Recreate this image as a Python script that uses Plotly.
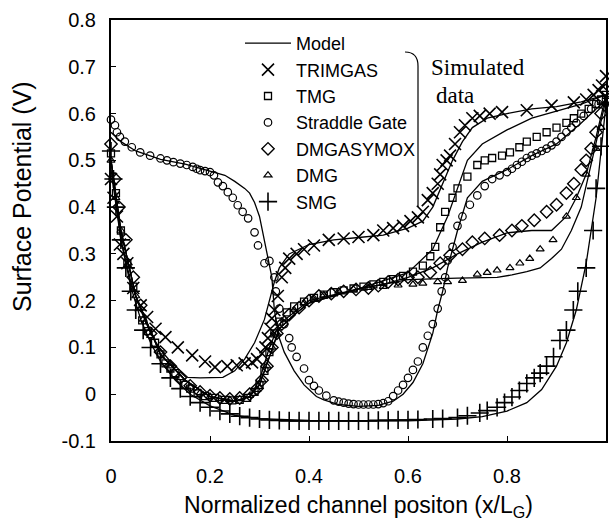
import plotly.graph_objects as go

# ---------------- data ----------------
trim_x = [0, 0.005, 0.012, 0.018, 0.025, 0.033, 0.045, 0.06, 0.073, 0.09, 0.11, 0.135, 0.164, 0.19, 0.21,
          0.235, 0.254, 0.27, 0.285, 0.295, 0.305, 0.312, 0.317, 0.322, 0.325, 0.33, 0.337, 0.345, 0.352,
          0.36, 0.375, 0.39, 0.41, 0.44, 0.47, 0.50, 0.53, 0.55, 0.57, 0.59, 0.605, 0.62, 0.63, 0.64, 0.65,
          0.66, 0.665, 0.67, 0.678, 0.685, 0.695, 0.705, 0.715, 0.73, 0.745, 0.765, 0.79, 0.84, 0.89, 0.935,
          0.96, 0.975, 0.985, 0.992, 1.0]
trim_y = [0.46, 0.42, 0.38, 0.32, 0.30, 0.28, 0.227, 0.19, 0.165, 0.14, 0.122, 0.10, 0.083, 0.07, 0.058,
          0.06, 0.062, 0.066, 0.068, 0.075, 0.087, 0.10, 0.12, 0.14, 0.162, 0.18, 0.21, 0.25, 0.27,
          0.29, 0.30, 0.31, 0.318, 0.33, 0.333, 0.336, 0.34, 0.35, 0.355, 0.36, 0.37, 0.378, 0.39, 0.415, 0.43,
          0.45, 0.47, 0.49, 0.50, 0.51, 0.535, 0.56, 0.575, 0.59, 0.595, 0.60, 0.603, 0.607, 0.617, 0.624,
          0.63, 0.64, 0.65, 0.66, 0.68]
trim_mx = [0, 0.02, 0.04, 0.06, 0.08, 0.1, 0.12, 0.14, 0.155, 0.18, 0.226, 0.25, 0.27, 0.29, 0.31, 0.32,
           0.33, 0.34, 0.36, 0.4, 0.45, 0.5, 0.55, 0.6, 0.63, 0.65, 0.67, 0.69, 0.71, 0.73, 0.76, 0.8, 0.85,
           0.9, 0.95, 1.0]
trim_my = [0.48, 0.33, 0.24, 0.18, 0.13, 0.095, 0.07, 0.05, 0.036, 0.035, 0.036, 0.05, 0.075, 0.11, 0.16,
           0.2, 0.24, 0.27, 0.30, 0.32, 0.33, 0.335, 0.34, 0.355, 0.37, 0.40, 0.45, 0.50, 0.54, 0.57, 0.59,
           0.60, 0.61, 0.615, 0.625, 0.64]

tmg_x = [0, 0.01, 0.02, 0.033, 0.045, 0.063, 0.075, 0.089, 0.1, 0.11, 0.12, 0.13, 0.15, 0.16, 0.175, 0.19,
         0.21, 0.23, 0.245, 0.26, 0.275, 0.29, 0.30, 0.31, 0.32, 0.33, 0.34, 0.355, 0.37, 0.39, 0.41, 0.43,
         0.45, 0.47, 0.49, 0.51, 0.53, 0.55, 0.57, 0.59, 0.61, 0.63, 0.645, 0.655, 0.665, 0.675, 0.69, 0.70,
         0.72, 0.74, 0.755, 0.77, 0.79, 0.806, 0.825, 0.84, 0.86, 0.88, 0.90, 0.92, 0.935, 0.95, 0.965,
         0.98, 0.99, 1.0]
tmg_y = [0.515, 0.43, 0.35, 0.28, 0.23, 0.158, 0.135, 0.11, 0.085, 0.066, 0.055, 0.045, 0.02, 0.012, 0.002,
         -0.004, -0.008, -0.012, -0.013, -0.012, -0.008, 0.005, 0.02, 0.05, 0.09, 0.13, 0.155, 0.175, 0.188,
         0.198, 0.206, 0.213, 0.218, 0.222, 0.226, 0.23, 0.235, 0.24, 0.246, 0.253, 0.262, 0.275, 0.295,
         0.315, 0.357, 0.39, 0.42, 0.44, 0.465, 0.49, 0.50, 0.505, 0.51, 0.517, 0.528, 0.54, 0.55, 0.56,
         0.57, 0.58, 0.59, 0.60, 0.61, 0.62, 0.63, 0.64]
tmg_mx = [0, 0.02, 0.05, 0.1, 0.15, 0.2, 0.25, 0.28, 0.3, 0.32, 0.34, 0.4, 0.5, 0.6, 0.65, 0.68, 0.7, 0.72,
          0.75, 0.8, 0.85, 0.9, 0.95, 1.0]
tmg_my = [0.5, 0.35, 0.21, 0.085, 0.03, -0.005, -0.015, -0.005, 0.03, 0.1, 0.15, 0.2, 0.225, 0.26, 0.31,
          0.38, 0.44, 0.50, 0.535, 0.565, 0.59, 0.605, 0.62, 0.64]

sg_x = [0, 0.008, 0.012, 0.018, 0.028, 0.042, 0.059, 0.079, 0.1, 0.113, 0.126, 0.14, 0.153, 0.165, 0.173,
        0.18, 0.19, 0.2, 0.208, 0.216, 0.226, 0.236, 0.246, 0.256, 0.266, 0.277, 0.29, 0.297, 0.31, 0.32,
        0.33, 0.333, 0.34, 0.35, 0.36, 0.365, 0.375, 0.39, 0.40, 0.41, 0.42, 0.435, 0.45, 0.46, 0.47, 0.48,
        0.49, 0.50, 0.51, 0.52, 0.53, 0.54, 0.55, 0.56, 0.57, 0.58, 0.59, 0.60, 0.61, 0.62, 0.63, 0.64,
        0.65, 0.66, 0.668, 0.675, 0.68, 0.69, 0.70, 0.71, 0.725, 0.74, 0.755, 0.77, 0.785, 0.80, 0.81,
        0.82, 0.83, 0.84, 0.85, 0.86, 0.87, 0.88, 0.89, 0.90, 0.91, 0.92, 0.93, 0.94, 0.955, 0.97, 0.985,
        1.0]
sg_y = [0.587, 0.575, 0.56, 0.55, 0.54, 0.528, 0.517, 0.51, 0.504, 0.50, 0.496, 0.493, 0.49, 0.486, 0.482,
        0.479, 0.477, 0.475, 0.468, 0.453, 0.445, 0.432, 0.42, 0.404, 0.39, 0.376, 0.346, 0.318, 0.28, 0.285,
        0.25, 0.22, 0.183, 0.15, 0.12, 0.10, 0.08, 0.055, 0.03, 0.018, 0.008, -0.003, -0.013, -0.016, -0.018,
        -0.02, -0.021, -0.022, -0.022, -0.022, -0.022, -0.021, -0.019, -0.015, -0.004, 0.008, 0.02, 0.035,
        0.052, 0.07, 0.10, 0.125, 0.15, 0.183, 0.22, 0.25, 0.286, 0.315, 0.36, 0.38, 0.405, 0.425, 0.445,
        0.46, 0.468, 0.475, 0.482, 0.49, 0.497, 0.505, 0.51, 0.515, 0.52, 0.525, 0.532, 0.54, 0.55, 0.56,
        0.57, 0.58, 0.595, 0.61, 0.62, 0.63]
sg_mx = [0, 0.02, 0.05, 0.1, 0.15, 0.2, 0.23, 0.25, 0.27, 0.28, 0.29, 0.3, 0.31, 0.32, 0.325, 0.33, 0.34,
         0.35, 0.37, 0.39, 0.415, 0.43, 0.46, 0.5, 0.54, 0.57, 0.59, 0.61, 0.63, 0.65, 0.66, 0.67, 0.68,
         0.69, 0.70, 0.72, 0.75, 0.8, 0.85, 0.9, 0.95, 1.0]
sg_my = [0.56, 0.54, 0.52, 0.502, 0.492, 0.478, 0.468, 0.455, 0.44, 0.43, 0.41, 0.38, 0.33, 0.28, 0.25,
         0.18, 0.12, 0.09, 0.05, 0.02, -0.005, -0.012, -0.022, -0.026, -0.024, -0.015, 0.0, 0.025, 0.065,
         0.13, 0.18, 0.22, 0.27, 0.31, 0.35, 0.42, 0.455, 0.48, 0.51, 0.535, 0.58, 0.63]

dmgasy_x = [0, 0.008, 0.016, 0.03, 0.045, 0.06, 0.08, 0.1, 0.12, 0.14, 0.16, 0.18, 0.2, 0.22, 0.24, 0.26,
            0.28, 0.295, 0.305, 0.315, 0.325, 0.335, 0.345, 0.36, 0.38, 0.4, 0.42, 0.445, 0.47, 0.495, 0.52,
            0.54, 0.56, 0.58, 0.6, 0.62, 0.645, 0.665, 0.685, 0.71, 0.73, 0.755, 0.785, 0.81, 0.83, 0.855,
            0.88, 0.9, 0.92, 0.935, 0.95, 0.96, 0.97, 0.98, 0.99, 1.0]
dmgasy_y = [0.535, 0.46, 0.40, 0.33, 0.25, 0.19, 0.13, 0.09, 0.06, 0.035, 0.018, 0.005, -0.003, -0.008,
            -0.01, -0.008, 0.0, 0.012, 0.03, 0.06, 0.10, 0.13, 0.15, 0.17, 0.185, 0.20, 0.21, 0.215, 0.22,
            0.224, 0.227, 0.232, 0.24, 0.245, 0.25, 0.25, 0.26, 0.28, 0.297, 0.31, 0.325, 0.333, 0.34, 0.35,
            0.36, 0.372, 0.39, 0.405, 0.43, 0.45, 0.48, 0.50, 0.525, 0.56, 0.60, 0.65]
dmgasy_mx = [0, 0.02, 0.05, 0.1, 0.15, 0.2, 0.25, 0.28, 0.3, 0.32, 0.34, 0.37, 0.4, 0.45, 0.5, 0.55, 0.6,
             0.65, 0.7, 0.75, 0.8, 0.85, 0.89, 0.92, 0.94, 0.96, 0.98, 1.0]
dmgasy_my = [0.5, 0.35, 0.21, 0.085, 0.03, -0.005, -0.015, -0.005, 0.02, 0.08, 0.14, 0.17, 0.195, 0.21,
             0.225, 0.235, 0.25, 0.27, 0.30, 0.325, 0.345, 0.35, 0.35, 0.38, 0.42, 0.47, 0.55, 0.64]

dmg_x = [0, 0.01, 0.02, 0.035, 0.05, 0.065, 0.08, 0.1, 0.12, 0.14, 0.16, 0.18, 0.2, 0.22, 0.24, 0.26, 0.28,
         0.295, 0.305, 0.315, 0.325, 0.335, 0.35, 0.37, 0.39, 0.41, 0.43, 0.46, 0.49, 0.52, 0.55, 0.58, 0.61,
         0.63, 0.66, 0.68, 0.71, 0.74, 0.76, 0.78, 0.806, 0.826, 0.846, 0.867, 0.893, 0.92, 0.94, 0.96,
         0.98, 0.99, 1.0]
dmg_y = [0.50, 0.42, 0.35, 0.28, 0.21, 0.16, 0.125, 0.09, 0.06, 0.035, 0.015, 0.003, -0.005, -0.01, -0.012,
         -0.01, -0.003, 0.01, 0.03, 0.06, 0.10, 0.13, 0.16, 0.18, 0.195, 0.205, 0.212, 0.22, 0.224, 0.228,
         0.23, 0.233, 0.235, 0.237, 0.24, 0.24, 0.243, 0.256, 0.26, 0.265, 0.27, 0.28, 0.29, 0.31, 0.33,
         0.38, 0.42, 0.47, 0.525, 0.57, 0.62]
dmg_mx = [0, 0.02, 0.05, 0.1, 0.15, 0.2, 0.25, 0.28, 0.3, 0.32, 0.34, 0.37, 0.4, 0.45, 0.5, 0.55, 0.6, 0.7,
          0.78, 0.81, 0.84, 0.867, 0.89, 0.91, 0.93, 0.95, 0.97, 0.985, 1.0]
dmg_my = [0.5, 0.35, 0.21, 0.085, 0.03, -0.005, -0.015, -0.005, 0.02, 0.08, 0.14, 0.17, 0.195, 0.21,
          0.225, 0.235, 0.245, 0.248, 0.25, 0.255, 0.262, 0.27, 0.29, 0.31, 0.35, 0.40, 0.49, 0.56, 0.63]

smg_x = [0, 0.005, 0.01, 0.02, 0.03, 0.04, 0.05, 0.065, 0.08, 0.1, 0.12, 0.14, 0.16, 0.18, 0.2, 0.22, 0.24,
         0.26, 0.28, 0.3, 0.32, 0.34, 0.36, 0.38, 0.4, 0.42, 0.44, 0.46, 0.48, 0.5, 0.52, 0.54, 0.56, 0.58,
         0.6, 0.62, 0.65, 0.67, 0.7, 0.72, 0.745, 0.76, 0.78, 0.795, 0.81, 0.825, 0.84, 0.855, 0.867, 0.88,
         0.894, 0.907, 0.92, 0.934, 0.943, 0.96, 0.974, 0.98, 0.99, 1.0]
smg_y = [0.52, 0.46, 0.40, 0.33, 0.27, 0.22, 0.18, 0.137, 0.10, 0.065, 0.035, 0.012, -0.005, -0.018, -0.028,
         -0.036, -0.042, -0.047, -0.05, -0.053, -0.055, -0.056, -0.057, -0.057, -0.057, -0.057, -0.057,
         -0.057, -0.057, -0.057, -0.057, -0.056, -0.056, -0.055, -0.055, -0.054, -0.053, -0.052, -0.05,
         -0.046, -0.04, -0.035, -0.028, -0.018, -0.006, 0.008, 0.023, 0.035, 0.045, 0.06, 0.08, 0.115,
         0.137, 0.18, 0.22, 0.27, 0.35, 0.44, 0.53, 0.62]
smg_mx = [0, 0.02, 0.04, 0.06, 0.08, 0.1, 0.13, 0.16, 0.2, 0.25, 0.3, 0.4, 0.5, 0.6, 0.7, 0.75, 0.8, 0.84,
          0.87, 0.9, 0.92, 0.94, 0.96, 0.98, 1.0]
smg_my = [0.5, 0.33, 0.23, 0.16, 0.11, 0.07, 0.03, 0.0, -0.025, -0.045, -0.052, -0.056, -0.057, -0.057,
          -0.053, -0.048, -0.036, -0.018, 0.01, 0.06, 0.11, 0.18, 0.28, 0.42, 0.62]

x_ticks = [0, 0.2, 0.4, 0.6, 0.8, 1.0]
x_ticktext = ["0", "0.2", "0.4", "0.6", "0.8", "1"]
y_ticks = [-0.1, 0, 0.1, 0.2, 0.3, 0.4, 0.5, 0.6, 0.7, 0.8]
y_ticktext = ["-0.1", "0", "0.1", "0.2", "0.3", "0.4", "0.5", "0.6", "0.7", "0.8"]

# ---------------- figure ----------------
fig = go.Figure()

models = [(trim_mx, trim_my), (tmg_mx, tmg_my), (sg_mx, sg_my),
          (dmgasy_mx, dmgasy_my), (dmg_mx, dmg_my), (smg_mx, smg_my)]
for i, (mx, my) in enumerate(models):
    fig.add_trace(go.Scatter(
        x=mx, y=my, mode="lines", name="Model", legendgroup="model",
        showlegend=(i == 0), line=dict(color="black", width=1.3),
        cliponaxis=False))

series = [
    ("TRIMGAS", trim_x, trim_y, "x-thin-open", 12, 1.6),
    ("TMG", tmg_x, tmg_y, "square-open", 7, 1.3),
    ("Straddle Gate", sg_x, sg_y, "circle-open", 7.5, 1.2),
    ("DMGASYMOX", dmgasy_x, dmgasy_y, "diamond-open", 9.5, 1.4),
    ("DMG", dmg_x, dmg_y, "triangle-up-open", 7, 1.2),
    ("SMG", smg_x, smg_y, "cross-thin-open", 13, 1.6),
]
for name, xs, ys, sym, size, lw in series:
    fig.add_trace(go.Scatter(
        x=xs, y=ys, mode="markers", name=name,
        marker=dict(symbol=sym, size=size, color="black",
                    line=dict(color="black", width=lw)),
        cliponaxis=False))

L, R, T, B = 111, 3, 20, 80
W, H = 609, 521
pw, ph = W - L - R, H - T - B


def px(x):
    return (x - L) / pw


def py(y):
    return (H - B - y) / ph


# bracket for "Simulated data"
bracket = (f"M {px(405)},{py(52)} Q {px(418)},{py(52)} {px(418)},{py(66)} "
           f"L {px(418)},{py(207)}")
fig.add_shape(type="path", xref="paper", yref="paper", path=bracket,
              line=dict(color="black", width=1.2))

fig.add_annotation(x=px(429), y=py(67), xref="paper", yref="paper",
                   text="Simulated", showarrow=False, xanchor="left", yanchor="middle",
                   font=dict(family="Liberation Serif", size=23, color="black"))
fig.add_annotation(x=px(434), y=py(95), xref="paper", yref="paper",
                   text="data", showarrow=False, xanchor="left", yanchor="middle",
                   font=dict(family="Liberation Serif", size=23, color="black"))

# y-axis title (placed where the reference shows it)
fig.add_annotation(x=px(22), y=py(197), xref="paper", yref="paper",
                   text="Surface Potential (V)", showarrow=False, textangle=-90,
                   xanchor="center", yanchor="middle",
                   font=dict(family="Liberation Sans", size=25, color="black"))

axis_common = dict(showline=True, linewidth=2, linecolor="black", mirror=True,
                   ticks="inside", ticklen=5, tickwidth=1, tickcolor="black",
                   showgrid=False, zeroline=False,
                   tickfont=dict(family="Liberation Sans", size=20, color="black"))

fig.update_layout(
    width=W, height=H,
    margin=dict(l=L, r=R, t=T, b=B, autoexpand=False),
    paper_bgcolor="white", plot_bgcolor="white",
    font=dict(family="Liberation Sans", color="black"),
    xaxis=dict(range=[0, 1], tickvals=x_ticks, ticktext=x_ticktext,
               ticklabelstandoff=16,
               title=dict(text="Normalized channel positon (x/L<sub>G</sub>)",
                          font=dict(size=23), standoff=14),
               **axis_common),
    yaxis=dict(range=[-0.1, 0.8], tickvals=y_ticks, ticktext=y_ticktext,
               ticklabelstandoff=9, **axis_common),
    legend=dict(x=px(240), y=py(25), xanchor="left", yanchor="top",
                bgcolor="rgba(0,0,0,0)", borderwidth=0,
                font=dict(family="Liberation Sans", size=18, color="black"),
                tracegroupgap=0, itemwidth=46),
    showlegend=True,
)

fig.write_html("out.html", config={"displayModeBar": False},
               post_script="document.body.style.margin='0px';")
